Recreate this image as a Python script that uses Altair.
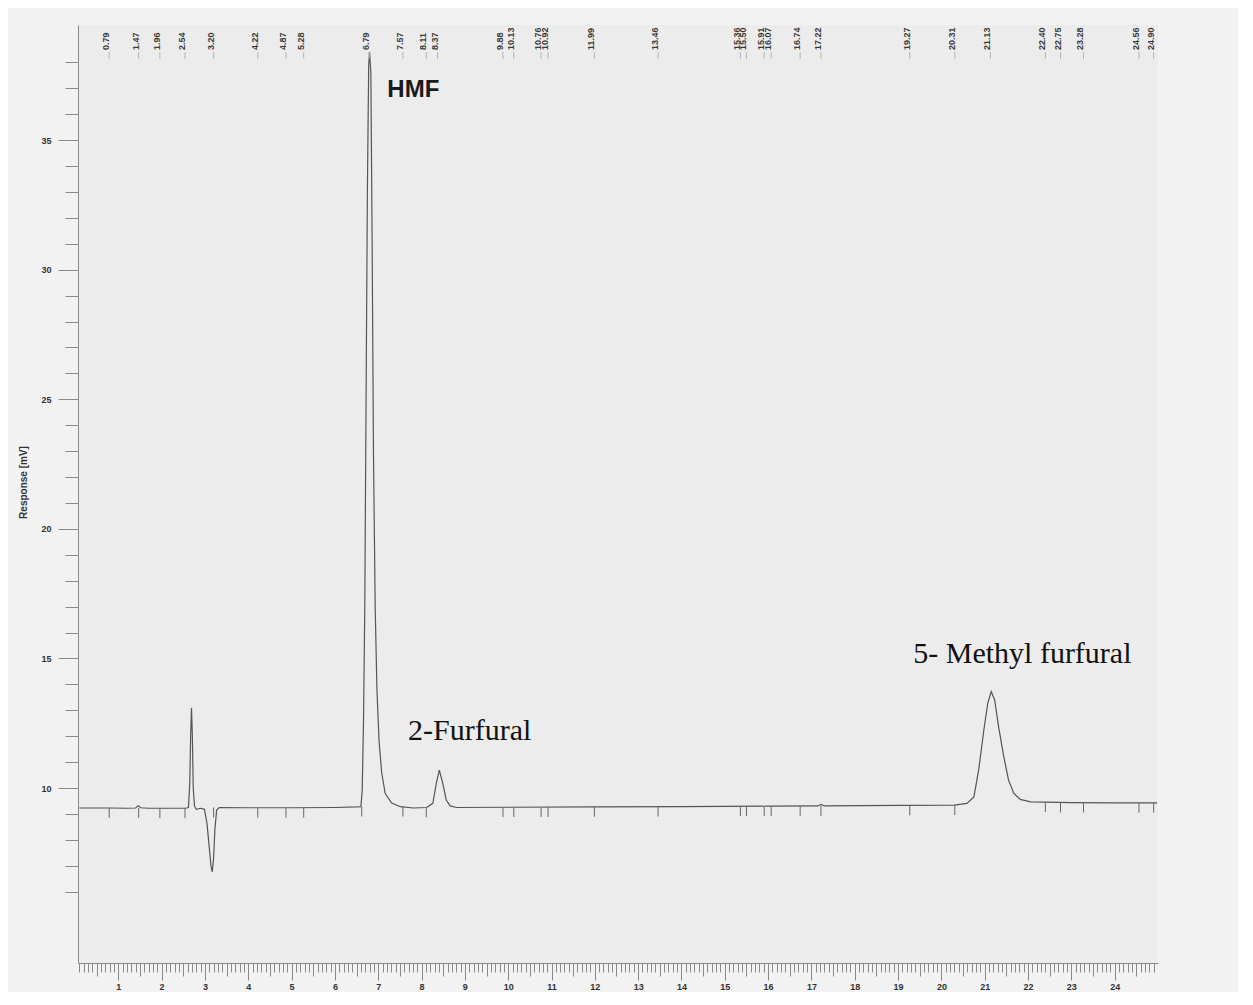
import altair as alt
import pandas as pd

# ---------------- data ----------------
time_min = [0.10, 0.79, 1.20, 1.40, 1.46, 1.52, 1.70, 2.20, 2.55, 2.62, 2.65, 2.67, 2.69, 2.71,
            2.73, 2.76, 2.80, 2.90, 2.99, 3.05, 3.10, 3.14, 3.17, 3.20, 3.23, 3.27, 3.33, 4.00,
            5.00, 6.00, 6.50, 6.60, 6.63, 6.66, 6.69, 6.72, 6.75, 6.78, 6.80, 6.83, 6.86, 6.89,
            6.93, 6.97, 7.02, 7.08, 7.16, 7.31, 7.51, 7.81, 8.12, 8.26, 8.34, 8.41, 8.49, 8.57,
            8.66, 8.81, 10.00, 12.00, 14.00, 16.00, 17.15, 17.22, 17.30, 19.00, 20.30, 20.59,
            20.75, 20.86, 20.98, 21.07, 21.15, 21.23, 21.32, 21.44, 21.55, 21.67, 21.82, 22.06,
            23.00, 24.00, 24.98]
response_mv = [9.23, 9.23, 9.22, 9.23, 9.32, 9.24, 9.22, 9.22, 9.22, 9.25, 10.2, 12.0, 13.1, 12.0,
               10.0, 9.30, 9.18, 9.22, 9.18, 8.60, 7.70, 7.00, 6.77, 7.30, 8.40, 9.15, 9.25, 9.24,
               9.24, 9.25, 9.27, 9.28, 9.90, 12.5, 17.0, 25.0, 33.0, 37.9, 38.4, 37.6, 31.0, 23.0,
               17.0, 13.8, 11.8, 10.6, 9.80, 9.42, 9.28, 9.23, 9.25, 9.41, 10.18, 10.69, 10.18, 9.54,
               9.31, 9.25, 9.26, 9.27, 9.28, 9.30, 9.31, 9.37, 9.31, 9.33, 9.34, 9.41,
               9.66, 10.69, 12.24, 13.27, 13.72, 13.40, 12.37, 11.21, 10.31, 9.80, 9.56, 9.47,
               9.44, 9.43, 9.43]

# retention-time labels printed along the top
rt_labels = ["0.79", "1.47", "1.96", "2.54", "3.20", "4.22", "4.87", "5.28", "6.79", "7.57",
             "8.11", "8.37", "9.88", "10.13", "10.76", "10.92", "11.99", "13.46", "15.36",
             "15.50", "15.91", "16.07", "16.74", "17.22", "19.27", "20.31", "21.13", "22.40",
             "22.75", "23.28", "24.56", "24.90"]
rt_values = [float(s) for s in rt_labels]

# integration marks on the baseline
mark_times = [0.79, 1.47, 1.96, 2.54, 3.20, 4.22, 4.87, 5.28, 6.62, 7.57, 8.11, 9.88, 10.13,
              10.76, 10.92, 11.99, 13.46, 15.36, 15.50, 15.91, 16.07, 16.74, 17.22, 19.27,
              20.31, 22.40, 22.75, 23.28, 24.56, 24.90]
mark_levels = [9.23, 9.23, 9.22, 9.22, 9.25, 9.24, 9.24, 9.24, 9.28, 9.28, 9.25, 9.26, 9.26,
               9.26, 9.26, 9.27, 9.28, 9.30, 9.30, 9.30, 9.30, 9.31, 9.31, 9.33,
               9.34, 9.45, 9.44, 9.44, 9.43, 9.43]

# peak names
peak_names = ["HMF", "2-Furfural", "5- Methyl furfural"]
peak_x = [7.21, 7.69, 19.35]
peak_y = [36.66, 11.85, 14.82]

x_major = list(range(1, 25))
x_half = [i + 0.5 for i in range(0, 25)]
x_tenth = [round(i * 0.1, 1) for i in range(1, 250)]
y_major = [10, 15, 20, 25, 30, 35]
y_minor = list(range(6, 39))

# ---------------- chart ----------------
xs = alt.Scale(domain=[0.07, 25.0], nice=False, zero=False)
ys = alt.Scale(domain=[3.25, 39.44], nice=False, zero=False)

AX = "#8a8a8a"
trace_df = pd.DataFrame({"t": time_min, "r": response_mv})

line = alt.Chart(trace_df).mark_line(color="#555555", strokeWidth=1.2, clip=True).encode(
    x=alt.X("t:Q", scale=xs, axis=alt.Axis(
        orient="bottom", values=x_major, format="d", tickSize=17, tickColor=AX,
        domainColor=AX, labelPadding=2, labelFontSize=9, labelFont="Liberation Sans",
        labelFontWeight="bold", labelColor="#333333", grid=False, title=None)),
    y=alt.Y("r:Q", scale=ys, axis=alt.Axis(
        orient="left", values=y_major, format="d", tickSize=20, tickColor=AX,
        domainColor=AX, labelPadding=7, labelFontSize=9, labelFont="Liberation Sans",
        labelFontWeight="bold", labelColor="#333333", grid=False,
        title="Response [mV]", titleFont="Liberation Sans", titleFontSize=10,
        titleFontWeight="bold", titleColor="#333333", titleAngle=270,
        titleX=-50, titleY=457)),
)

minor1 = alt.Chart(trace_df).mark_line(strokeOpacity=0).encode(
    x=alt.X("t:Q", scale=xs, axis=alt.Axis(
        orient="bottom", values=x_tenth, tickSize=9, tickColor=AX, labels=False,
        domain=False, grid=False, title=None)),
    y=alt.Y("r:Q", scale=ys, axis=alt.Axis(
        orient="left", values=y_minor, tickSize=13, tickColor=AX, labels=False,
        domain=False, grid=False, title=None)),
)

minor2 = alt.Chart(trace_df).mark_line(strokeOpacity=0).encode(
    x=alt.X("t:Q", scale=xs, axis=alt.Axis(
        orient="bottom", values=x_half, tickSize=13, tickColor=AX, labels=False,
        domain=False, grid=False, title=None)),
    y=alt.Y("r:Q", scale=ys, axis=None),
)

rt_df = pd.DataFrame({"t": rt_values, "lab": rt_labels})
top_text = alt.Chart(rt_df).mark_text(
    angle=270, align="left", baseline="middle", dy=-3, fontSize=9,
    font="Liberation Sans", fontWeight="bold", color="#3a3a3a").encode(
    x=alt.X("t:Q", scale=xs, axis=None),
    y=alt.value(25),
    text="lab:N",
)
top_ticks = alt.Chart(rt_df).mark_rule(color="#b5b5b5", strokeWidth=1).encode(
    x=alt.X("t:Q", scale=xs, axis=None),
    y=alt.value(27),
    y2=alt.value(34),
)

mk_df = pd.DataFrame({"t": mark_times, "lvl": mark_levels})
base_marks = alt.Chart(mk_df).transform_calculate(lvl2="datum.lvl - 0.38").mark_rule(
    color="#666666", strokeWidth=1).encode(
    x=alt.X("t:Q", scale=xs, axis=None),
    y=alt.Y("lvl:Q", scale=ys, axis=None),
    y2="lvl2:Q",
)

pk_df = pd.DataFrame({"t": peak_x, "r": peak_y, "name": peak_names})
hmf = alt.Chart(pk_df).transform_filter(alt.datum.name == "HMF").mark_text(
    align="left", baseline="alphabetic", font="Liberation Sans", fontWeight="bold",
    fontSize=24, color="#1a1a1a").encode(
    x=alt.X("t:Q", scale=xs, axis=None), y=alt.Y("r:Q", scale=ys, axis=None), text="name:N")
others = alt.Chart(pk_df).transform_filter(alt.datum.name != "HMF").mark_text(
    align="left", baseline="alphabetic", font="Liberation Serif",
    fontSize=30, color="#111111").encode(
    x=alt.X("t:Q", scale=xs, axis=None), y=alt.Y("r:Q", scale=ys, axis=None), text="name:N")

chart = alt.layer(
    minor1, minor2, line, top_ticks, top_text, base_marks, hmf, others
).resolve_axis(x="independent", y="independent").properties(
    width=1080, height=938,
    autosize=alt.AutoSizeParams(type="none"),
    padding={"left": 70, "top": 17, "right": 80, "bottom": 29},
    background="#f2f2f2",
).configure_view(fill="#ececec", strokeWidth=0)

chart.save("out.html", embed_options={"renderer": "svg", "actions": False})
